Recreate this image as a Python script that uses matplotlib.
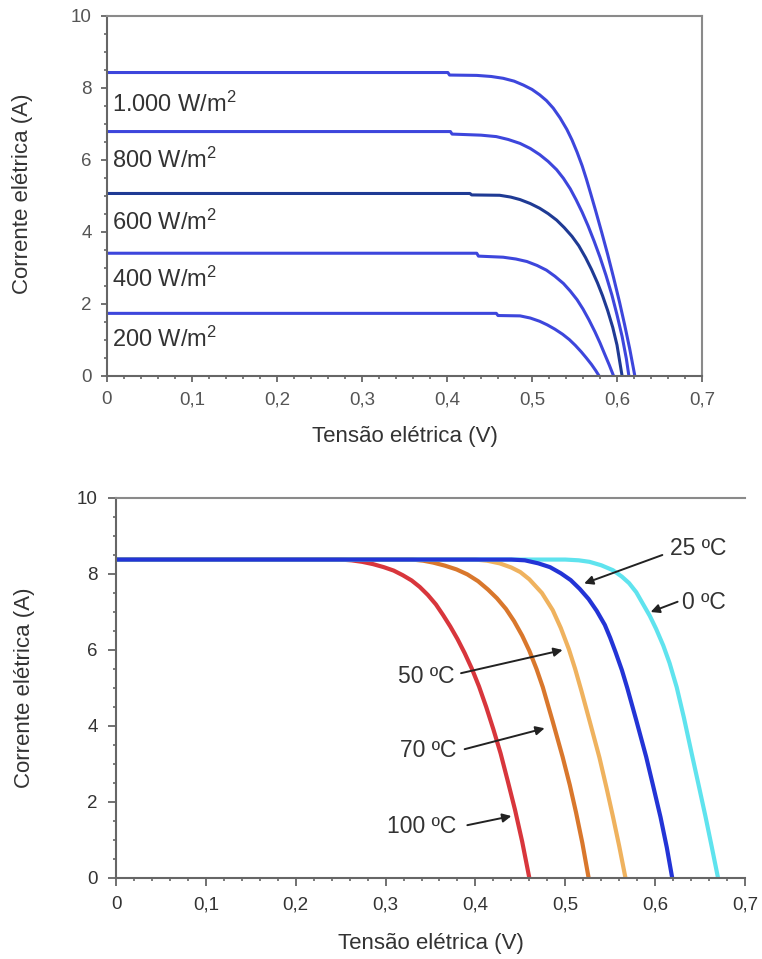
import matplotlib
matplotlib.use("Agg")
import matplotlib.pyplot as plt
from matplotlib.ticker import MultipleLocator, FixedLocator, FixedFormatter

plt.rcParams['font.family'] = ['Liberation Sans', 'DejaVu Sans']
plt.rcParams['mathtext.default'] = 'regular'

# ---- top chart: irradiance curves (V, A) ----
irr_labels = ["1.000 W/m$^2$", "800 W/m$^2$", "600 W/m$^2$", "400 W/m$^2$", "200 W/m$^2$"]
irr_label_y = [7.33, 5.78, 4.06, 2.47, 0.81]

v_1000 = [0, 0.401, 0.403, 0.435, 0.452, 0.466, 0.479, 0.490, 0.500, 0.509, 0.517, 0.525, 0.533,
          0.541, 0.547, 0.553, 0.559, 0.564, 0.569, 0.575, 0.582, 0.589, 0.596, 0.603, 0.609, 0.615, 0.621]
i_1000 = [8.43, 8.43, 8.36, 8.35, 8.32, 8.27, 8.19, 8.08, 7.96, 7.81, 7.65, 7.44, 7.17,
          6.85, 6.56, 6.22, 5.84, 5.47, 5.07, 4.58, 3.99, 3.38, 2.73, 2.05, 1.42, 0.75, 0.0]

v_800 = [0, 0.404, 0.406, 0.440, 0.458, 0.472, 0.486, 0.498, 0.509, 0.519, 0.529, 0.537, 0.545,
         0.552, 0.559, 0.566, 0.573, 0.580, 0.587, 0.594, 0.600, 0.606, 0.611, 0.614]
i_800 = [6.79, 6.79, 6.72, 6.69, 6.65, 6.57, 6.46, 6.32, 6.15, 5.96, 5.73, 5.49, 5.20,
         4.89, 4.55, 4.17, 3.75, 3.30, 2.80, 2.25, 1.70, 1.10, 0.48, 0.0]

v_600 = [0, 0.427, 0.429, 0.462, 0.475, 0.486, 0.498, 0.509, 0.519, 0.529, 0.538, 0.547, 0.555,
         0.563, 0.570, 0.577, 0.583, 0.589, 0.595, 0.600, 0.606]
i_600 = [5.07, 5.07, 5.03, 5.02, 4.97, 4.90, 4.79, 4.66, 4.51, 4.33, 4.12, 3.88, 3.62,
         3.29, 2.96, 2.59, 2.23, 1.82, 1.35, 0.86, 0.0]

v_400 = [0, 0.435, 0.437, 0.466, 0.481, 0.494, 0.506, 0.517, 0.527, 0.537, 0.545, 0.553, 0.560,
         0.567, 0.574, 0.580, 0.586, 0.591, 0.596]
i_400 = [3.41, 3.41, 3.33, 3.30, 3.25, 3.18, 3.07, 2.94, 2.77, 2.57, 2.36, 2.12, 1.86,
         1.56, 1.23, 0.92, 0.58, 0.30, 0.0]

v_200 = [0, 0.458, 0.460, 0.486, 0.498, 0.509, 0.518, 0.527, 0.536, 0.544, 0.551, 0.558, 0.564,
         0.570, 0.575, 0.579]
i_200 = [1.74, 1.74, 1.68, 1.67, 1.61, 1.52, 1.42, 1.30, 1.16, 1.01, 0.85, 0.67, 0.50,
         0.32, 0.15, 0.0]

# ---- bottom chart: temperature curves ----
v_100c = [0, 0.25, 0.262, 0.274, 0.286, 0.298, 0.309, 0.319, 0.329, 0.338, 0.347, 0.356, 0.364,
          0.372, 0.380, 0.388, 0.396, 0.404, 0.412, 0.420, 0.428, 0.436, 0.444, 0.452, 0.460]
i_100c = [8.38, 8.38, 8.36, 8.32, 8.26, 8.18, 8.09, 7.97, 7.83, 7.66, 7.45, 7.20, 6.92,
          6.62, 6.29, 5.92, 5.51, 5.04, 4.50, 3.91, 3.28, 2.55, 1.80, 0.96, 0.0]

v_70c = [0, 0.33, 0.342, 0.353, 0.366, 0.379, 0.391, 0.403, 0.414, 0.424, 0.434, 0.443, 0.452,
         0.460, 0.468, 0.475, 0.486, 0.497, 0.505, 0.512, 0.519, 0.526]
i_70c = [8.38, 8.38, 8.35, 8.30, 8.22, 8.12, 7.99, 7.81, 7.59, 7.36, 7.08, 6.76, 6.38,
         5.98, 5.50, 5.02, 4.12, 3.19, 2.45, 1.72, 0.92, 0.0]

v_50c = [0, 0.40, 0.413, 0.427, 0.440, 0.450, 0.460, 0.474, 0.486, 0.495, 0.504, 0.511, 0.518,
         0.528, 0.538, 0.546, 0.553, 0.560, 0.567]
i_50c = [8.38, 8.38, 8.35, 8.28, 8.17, 8.05, 7.86, 7.50, 7.05, 6.58, 6.02, 5.50, 4.92,
         4.05, 3.17, 2.36, 1.62, 0.84, 0.0]

v_25c = [0, 0.44, 0.455, 0.470, 0.483, 0.495, 0.506, 0.516, 0.526, 0.535, 0.544, 0.550, 0.556,
         0.563, 0.569, 0.579, 0.590, 0.598, 0.606, 0.613, 0.619]
i_25c = [8.38, 8.38, 8.36, 8.28, 8.18, 8.02, 7.84, 7.61, 7.34, 7.03, 6.66, 6.32, 5.94,
         5.47, 5.00, 4.15, 3.19, 2.40, 1.60, 0.80, 0.0]

v_0c = [0, 0.50, 0.515, 0.527, 0.540, 0.553, 0.563, 0.571, 0.579, 0.586, 0.594, 0.601, 0.609,
        0.616, 0.624, 0.632, 0.641, 0.649, 0.656, 0.663, 0.670]
i_0c = [8.38, 8.38, 8.36, 8.32, 8.23, 8.10, 7.93, 7.76, 7.52, 7.23, 6.90, 6.56, 6.12,
        5.66, 5.02, 4.22, 3.24, 2.38, 1.62, 0.82, 0.0]

# annotations: label, text anchor (V, A), arrow tail, arrow head
temp_labels = ["25 ºC", "0 ºC", "50 ºC", "70 ºC", "100 ºC"]
temp_text_xy = [(0.616, 8.66), (0.630, 7.26), (0.377, 5.30), (0.379, 3.35), (0.379, 1.35)]
temp_arrow_tail = [(0.608, 8.50), (0.625, 7.27), (0.384, 5.39), (0.388, 3.39), (0.391, 1.39)]
temp_arrow_head = [(0.521, 7.75), (0.595, 7.00), (0.497, 6.00), (0.477, 3.94), (0.440, 1.63)]

x_ticks = [0, 0.1, 0.2, 0.3, 0.4, 0.5, 0.6, 0.7]
x_tick_labels = ["0", "0,1", "0,2", "0,3", "0,4", "0,5", "0,6", "0,7"]
y_ticks = [0, 2, 4, 6, 8, 10]


def style_axes(ax, tick_color, major_len, right_spine=True):
    ax.set_xlim(0, 0.7)
    ax.set_ylim(0, 10)
    ax.xaxis.set_major_locator(FixedLocator(x_ticks))
    ax.xaxis.set_major_formatter(FixedFormatter(x_tick_labels))
    ax.xaxis.set_minor_locator(MultipleLocator(0.02))
    ax.yaxis.set_major_locator(FixedLocator(y_ticks))
    ax.yaxis.set_minor_locator(MultipleLocator(0.5))
    ax.tick_params(which='major', length=major_len, width=1.3, color='#666',
                   labelsize=13.5, labelcolor=tick_color, pad=7)
    ax.tick_params(which='minor', length=2.5, width=1.2, color='#666')
    for side in ['left', 'bottom']:
        ax.spines[side].set_color('#666')
        ax.spines[side].set_linewidth(1.5)
    ax.spines['top'].set_color('#8a8a8a')
    ax.spines['top'].set_linewidth(1.5)
    if right_spine:
        ax.spines['right'].set_color('#8a8a8a')
        ax.spines['right'].set_linewidth(1.5)
    else:
        ax.spines['right'].set_visible(False)
    ax.set_xlabel("Tensão elétrica (V)", fontsize=16, color='#333')
    ax.set_ylabel("Corrente elétrica (A)", fontsize=16, color='#333')


fig = plt.figure(figsize=(7.62, 9.59), dpi=100)

# top
ax1 = fig.add_axes([107 / 762, 1 - 376 / 959, 595 / 762, 360 / 959])
blue = '#3d46dc'
ax1.plot(v_1000, i_1000, color=blue, lw=2.2)
ax1.plot(v_800, i_800, color=blue, lw=2.2)
ax1.plot(v_600, i_600, color='#1f3a94', lw=2.2)
ax1.plot(v_400, i_400, color=blue, lw=2.2)
ax1.plot(v_200, i_200, color=blue, lw=2.2)
for lab, yy in zip(irr_labels, irr_label_y):
    ax1.text(0.006, yy, lab, fontsize=17, color='#333', ha='left', va='baseline')
style_axes(ax1, '#555', 4)
ax1.xaxis.set_label_coords(0.5, -0.14)
ax1.yaxis.set_label_coords(-0.125, 0.505)

# bottom
ax2 = fig.add_axes([116 / 762, 1 - 878 / 959, 629 / 762, 380 / 959])
ax2.plot(v_100c, i_100c, color='#d8363c', lw=3.0)
ax2.plot(v_70c, i_70c, color='#d9772c', lw=3.0)
ax2.plot(v_50c, i_50c, color='#efb25e', lw=3.0)
ax2.plot(v_0c, i_0c, color='#5fe3ee', lw=3.0)
ax2.plot(v_25c, i_25c, color='#2334d6', lw=3.0)
for lab, (tx, ty), tail, head in zip(temp_labels, temp_text_xy, temp_arrow_tail, temp_arrow_head):
    ha = 'left' if tx > 0.5 else 'right'
    ax2.text(tx, ty, lab, fontsize=16.5, color='#333', ha=ha, va='center')
    ax2.annotate('', xy=head, xytext=tail,
                 arrowprops=dict(arrowstyle='-|>', color='#222', lw=1.4,
                                 mutation_scale=13, shrinkA=0, shrinkB=0))
style_axes(ax2, '#333', 6, right_spine=False)
ax2.xaxis.set_label_coords(0.5, -0.145)
ax2.yaxis.set_label_coords(-0.128, 0.5)

fig.savefig("out.png", dpi=100)
